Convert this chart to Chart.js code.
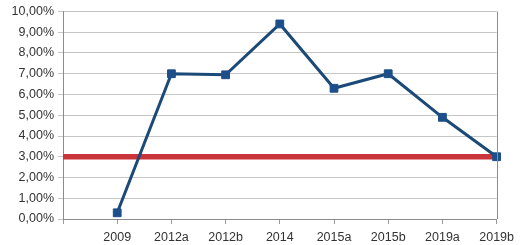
<!DOCTYPE html>
<html>
<head>
<meta charset="utf-8">
<script src="https://cdn.jsdelivr.net/npm/chart.js@4"></script>
<style>
  html, body { margin: 0; padding: 0; background: #fff; }
  #wrap { width: 520px; height: 245px; }
</style>
</head>
<body>
<div id="wrap"><canvas id="chart-line"></canvas></div>
<script>
const labels = ["", "2009", "2012a", "2012b", "2014", "2015a", "2015b", "2019a", "2019b"];
const rateValues = [null, 0.3, 7.0, 6.95, 9.4, 6.3, 7.0, 4.9, 3.0];
const targetValues = [3, 3, 3, 3, 3, 3, 3, 3, 3];
const yTicks = [0, 1, 2, 3, 4, 5, 6, 7, 8, 9, 10];

const frame = {
  id: "frame",
  afterDatasetsDraw(chart) {
    const a = chart.chartArea;
    const c = chart.ctx;
    c.save();
    c.strokeStyle = "#8c8c8c";
    c.lineWidth = 1;
    c.beginPath();
    c.moveTo(Math.round(a.right) + 0.5, a.top);
    c.lineTo(Math.round(a.right) + 0.5, a.bottom);
    c.stroke();
    c.restore();
  },
};

var ctx = document.getElementById("chart-line").getContext("2d");
new Chart(ctx, {
  type: "line",
  plugins: [frame],
  data: {
    labels: labels,
    datasets: [
      {
        label: "Rate",
        data: rateValues,
        borderColor: "#1b4a78",
        borderWidth: 3,
        tension: 0,
        pointStyle: "rect",
        pointRadius: 5.5,
        pointBackgroundColor: "#1d4f8a",
        pointBorderColor: "#1d4f8a",
        pointBorderWidth: 1,
        order: 0,
      },
      {
        label: "Target",
        data: targetValues,
        borderColor: "#c9353a",
        borderWidth: 5.5,
        pointRadius: 0,
        tension: 0,
        order: 1,
      },
    ],
  },
  options: {
    responsive: true,
    maintainAspectRatio: false,
    animation: false,
    layout: { padding: { top: 10, right: 23, left: 0, bottom: 0 } },
    plugins: {
      legend: { display: false },
      tooltip: { enabled: false },
    },
    scales: {
      x: {
        offset: false,
        grid: {
          display: true,
          drawOnChartArea: false,
          drawTicks: true,
          tickLength: 5,
          color: "#9a9a9a",
        },
        border: { display: true, color: "#8c8c8c" },
        ticks: {
          color: "#333",
          padding: 6,
          maxRotation: 0,
          autoSkip: false,
          font: { family: "Liberation Sans", size: 12.5 },
        },
        afterFit(scale) { scale.height = 26; },
      },
      y: {
        min: 0,
        max: 10,
        afterBuildTicks(scale) {
          scale.ticks = yTicks.map((v) => ({ value: v }));
        },
        grid: {
          color: "#c6c6c6",
          lineWidth: 1,
          drawTicks: true,
          tickLength: 5,
        },
        border: { display: true, color: "#8c8c8c" },
        ticks: {
          color: "#333",
          padding: 4,
          font: { family: "Liberation Sans", size: 12.5 },
          callback: function (value) {
            return value.toFixed(2).replace(".", ",") + "%";
          },
        },
        afterFit(scale) { scale.width = 63; },
      },
    },
  },
});
</script>
</body>
</html>
